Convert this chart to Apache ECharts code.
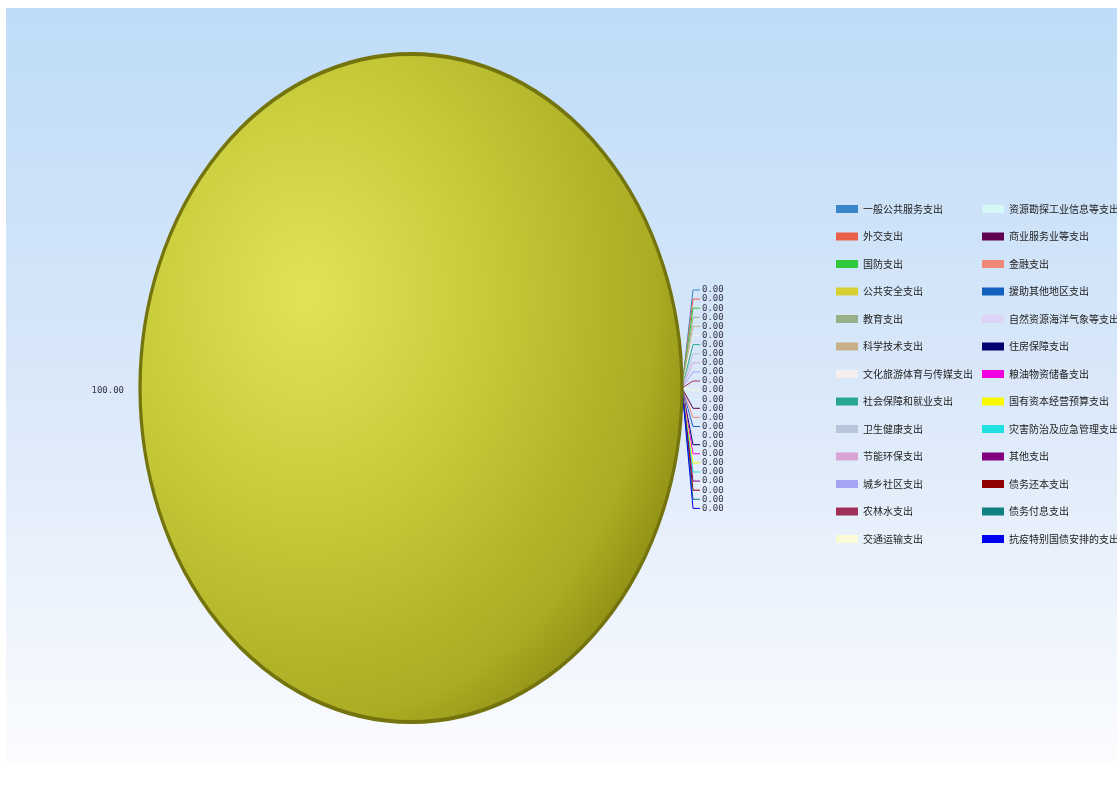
<!DOCTYPE html>
<html>
<head>
<meta charset="utf-8">
<script src="https://cdn.jsdelivr.net/npm/echarts@6/dist/echarts.min.js"></script>
<style>html,body{margin:0;padding:0;background:#fff}#c{width:1117px;height:803px}</style>
</head>
<body>
<div id="c"></div>
<script>
const categories = [
  '一般公共服务支出','外交支出','国防支出','公共安全支出','教育支出','科学技术支出',
  '文化旅游体育与传媒支出','社会保障和就业支出','卫生健康支出','节能环保支出','城乡社区支出',
  '农林水支出','交通运输支出',
  '资源勘探工业信息等支出','商业服务业等支出','金融支出','援助其他地区支出','自然资源海洋气象等支出',
  '住房保障支出','粮油物资储备支出','国有资本经营预算支出','灾害防治及应急管理支出','其他支出',
  '债务还本支出','债务付息支出','抗疫特别国债安排的支出'
];
const values = [0,0,0,100,0,0,0,0,0,0,0,0,0,0,0,0,0,0,0,0,0,0,0,0,0,0];
const colors = [
  '#3a86c8','#e8604a','#30c83c','#d8d030','#98b088','#c8b088','#f4eeee','#28a890','#b8c6dc',
  '#d8a4d4','#a4a4f4','#a03058','#fafad4',
  '#d4f8f8','#600050','#f08878','#1060c0','#dcd4f4','#000070','#f000e0','#f8f800','#20e0e0',
  '#800080','#900000','#108080','#0000f0'
];
const CX = 411, CY = 388, RY = 334, RX = 271;
const K = RX / RY;
const bigFill = {
  type: 'radial', x: 0.31, y: 0.36, r: 0.75,
  colorStops: [
    { offset: 0, color: '#e2e458' },
    { offset: 0.45, color: '#c6ca38' },
    { offset: 0.85, color: '#aaac22' },
    { offset: 1, color: '#8e8e14' }
  ]
};
const data = categories.map((n, i) => {
  const d = { name: n, value: values[i], itemStyle: { color: colors[i] } };
  if (values[i] > 0) {
    d.itemStyle = { color: bigFill, borderColor: '#74740e', borderWidth: 4 };
    d.labelLine = { show: false };
  }
  return d;
});
const legendData = categories.map((n, i) => ({ name: n, itemStyle: { color: colors[i], borderWidth: 0 } }));
const zeroIdx = values.map((v, i) => v > 0 ? -1 : i).filter(i => i >= 0);
let scaleApplied = true;
function edgeX(px) { return scaleApplied ? CX + (px - CX) * K : px; }
const chart = echarts.init(document.getElementById('c'));
chart.setOption({
  animation: false,
  backgroundColor: '#ffffff',
  color: colors,
  graphic: [{
    type: 'rect', z: -10, silent: true,
    shape: { x: 6, y: 8, width: 1111, height: 754 },
    style: { fill: { type: 'linear', x: 0, y: 0, x2: 0, y2: 1, colorStops: [
      { offset: 0, color: '#bedcf8' }, { offset: 0.5, color: '#dae8f9' }, { offset: 1, color: '#fbfcfe' }
    ] } }
  }],
  legend: [
    { data: legendData.slice(0, 13), orient: 'vertical', left: 831, top: 197, itemWidth: 22, itemHeight: 8,
      itemGap: 13.5, icon: 'rect', selectedMode: false,
      textStyle: { fontFamily: 'Noto Sans CJK SC', fontSize: 10, color: '#222', lineHeight: 14 } },
    { data: legendData.slice(13), orient: 'vertical', left: 977, top: 197, itemWidth: 22, itemHeight: 8,
      itemGap: 13.5, icon: 'rect', selectedMode: false,
      textStyle: { fontFamily: 'Noto Sans CJK SC', fontSize: 10, color: '#222', lineHeight: 14 } }
  ],
  series: [{
    type: 'pie',
    center: [CX, CY],
    radius: [0, RY],
    startAngle: 0,
    clockwise: true,
    minAngle: 0,
    stillShowZeroSum: true,
    avoidLabelOverlap: false,
    data: data,
    label: {
      show: true, position: 'outside',
      formatter: p => Number(p.value).toFixed(2),
      fontFamily: 'DejaVu Sans Mono', fontSize: 9, color: '#334'
    },
    labelLine: { show: true, length: 8, length2: 6, lineStyle: { width: 1 } },
    labelLayout: function (p) {
      const pts = p.labelLinePoints;
      const p0 = pts ? pts[0] : [p.rect.x + p.rect.width, CY];
      const ex = edgeX(p0[0]);
      const k = zeroIdx.indexOf(p.dataIndex);
      if (k < 0) {
        return { x: ex - 16, y: p0[1] + 3, align: 'right', verticalAlign: 'middle' };
      }
      const y = CY - 98 + k * 9.1;
      return {
        x: ex + 20, y: y, align: 'left', verticalAlign: 'middle',
        labelLinePoints: [[ex, p0[1]], [ex + 11, y], [ex + 18, y]]
      };
    },
    emphasis: { disabled: true }
  }]
});
try {
  const sm = chart.getModel().getSeriesByIndex(0);
  const view = chart.getViewOfSeriesModel(sm);
  const g = view.group;
  g.originX = CX; g.originY = CY; g.scaleX = K;
  g.traverse(e => e.markRedraw && e.markRedraw());
  g.markRedraw && g.markRedraw();
  chart.getZr().refreshImmediately();
} catch (e) {
  scaleApplied = false;
  chart.setOption({ series: [{ radius: [0, 304] }] });
}
</script>
</body>
</html>
